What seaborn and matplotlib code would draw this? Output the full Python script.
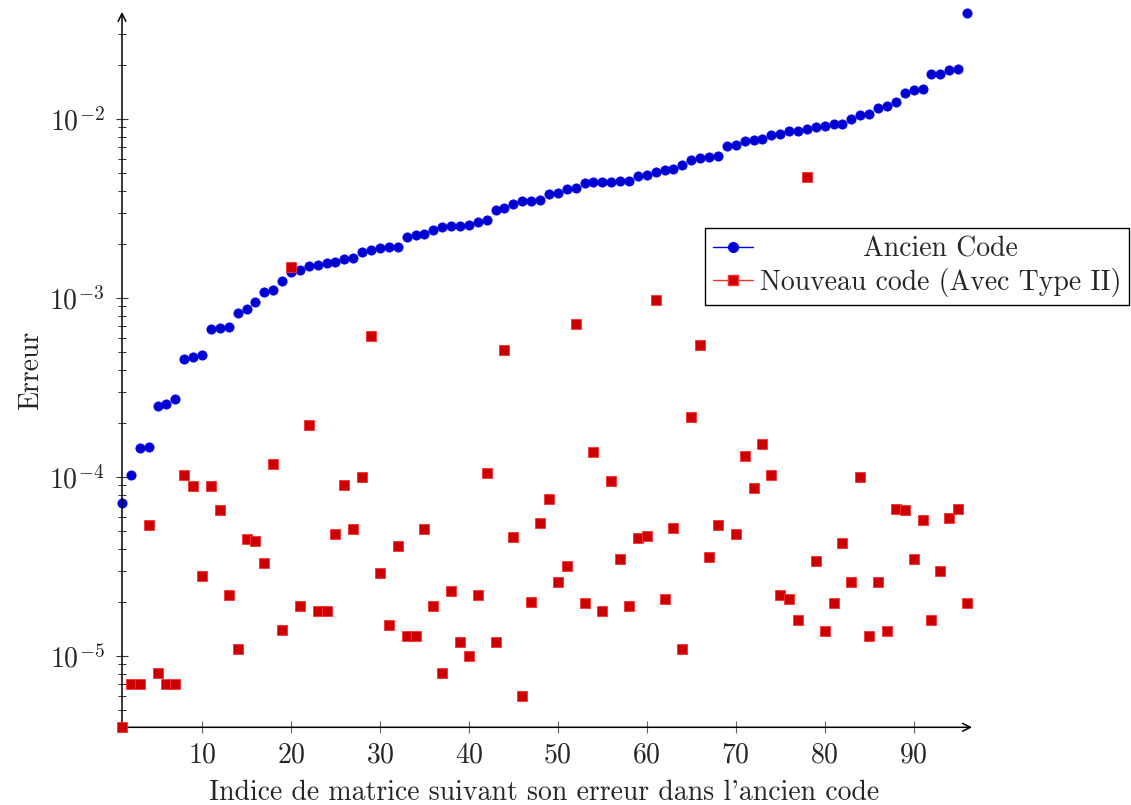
import numpy as np
import pandas as pd
import matplotlib
matplotlib.use("Agg")
import matplotlib.pyplot as plt
from matplotlib.lines import Line2D
from matplotlib.ticker import NullFormatter, LogLocator
from matplotlib.transforms import Affine2D
import seaborn as sns

# Matrix index, sorted by the error of the old code
indices = list(range(1, 97))

# Error of the old code (sorted ascending)
ancien_code = [
    7.21e-5, 1.03e-4, 1.45e-4, 1.48e-4, 2.50e-4, 2.58e-4, 2.74e-4, 4.56e-4,
    4.68e-4, 4.84e-4, 6.76e-4, 6.85e-4, 6.94e-4, 8.27e-4, 8.71e-4, 9.57e-4,
    1.08e-3, 1.11e-3, 1.25e-3, 1.40e-3, 1.44e-3, 1.51e-3, 1.54e-3, 1.57e-3,
    1.60e-3, 1.66e-3, 1.67e-3, 1.81e-3, 1.85e-3, 1.90e-3, 1.93e-3, 1.94e-3,
    2.20e-3, 2.25e-3, 2.29e-3, 2.41e-3, 2.51e-3, 2.53e-3, 2.53e-3, 2.57e-3,
    2.68e-3, 2.73e-3, 3.11e-3, 3.21e-3, 3.38e-3, 3.48e-3, 3.51e-3, 3.56e-3,
    3.83e-3, 3.89e-3, 4.06e-3, 4.13e-3, 4.39e-3, 4.46e-3, 4.48e-3, 4.48e-3,
    4.51e-3, 4.54e-3, 4.82e-3, 4.86e-3, 5.09e-3, 5.19e-3, 5.27e-3, 5.53e-3,
    5.94e-3, 6.10e-3, 6.15e-3, 6.23e-3, 7.10e-3, 7.16e-3, 7.54e-3, 7.66e-3,
    7.76e-3, 8.20e-3, 8.31e-3, 8.57e-3, 8.64e-3, 8.79e-3, 9.06e-3, 9.18e-3,
    9.41e-3, 9.45e-3, 1.01e-2, 1.06e-2, 1.07e-2, 1.15e-2, 1.18e-2, 1.25e-2,
    1.41e-2, 1.46e-2, 1.47e-2, 1.78e-2, 1.78e-2, 1.88e-2, 1.91e-2, 3.91e-2,
]

# Error of the new code (with Type II); index 69 sits under the legend
nouveau_code = [
    4.01e-6, 7.0e-6, 7.0e-6, 5.42e-5, 8.04e-6, 7.0e-6, 7.0e-6, 1.03e-4,
    8.91e-5, 2.81e-5, 8.91e-5, 6.59e-5, 2.20e-5, 1.10e-5, 4.51e-5, 4.41e-5,
    3.31e-5, 1.19e-4, 1.40e-5, 1.50e-3, 1.90e-5, 1.96e-4, 1.80e-5, 1.80e-5,
    4.81e-5, 9.02e-5, 5.12e-5, 1.00e-4, 6.15e-4, 2.91e-5, 1.50e-5, 4.12e-5,
    1.30e-5, 1.30e-5, 5.12e-5, 1.90e-5, 8.04e-6, 2.31e-5, 1.20e-5, 1.00e-5,
    2.21e-5, 1.05e-4, 1.20e-5, 5.16e-4, 4.62e-5, 6.0e-6, 2.01e-5, 5.53e-5,
    7.54e-5, 2.60e-5, 3.19e-5, 7.18e-4, 1.99e-5, 1.39e-4, 1.80e-5, 9.49e-5,
    3.50e-5, 1.90e-5, 4.58e-5, 4.70e-5, 9.75e-4, 2.09e-5, 5.20e-5, 1.10e-5,
    2.18e-4, 5.51e-4, 3.60e-5, 5.41e-5, np.nan, 4.81e-5, 1.32e-4, 8.70e-5,
    1.53e-4, 1.03e-4, 2.20e-5, 2.09e-5, 1.60e-5, 4.75e-3, 3.40e-5, 1.39e-5,
    1.99e-5, 4.29e-5, 2.59e-5, 1.01e-4, 1.29e-5, 2.59e-5, 1.39e-5, 6.68e-5,
    6.59e-5, 3.50e-5, 5.78e-5, 1.60e-5, 2.99e-5, 5.89e-5, 6.68e-5, 1.99e-5,
]

x_ticks = [10, 20, 30, 40, 50, 60, 70, 80, 90]
series_labels = ["Ancien Code", "Nouveau code (Avec Type II)"]
x_label = "Indice de matrice suivant son erreur dans l'ancien code"
y_label = "Erreur"

sns.set_style("ticks")
plt.rcParams.update({
    "font.family": "serif",
    "font.serif": ["cmr10"],
    "mathtext.fontset": "cm",
    "axes.formatter.use_mathtext": True,
    "font.size": 20,
    "axes.unicode_minus": True,
})

blue_fill, blue_edge = "#0000CC", "#0000FF"
red_fill, red_edge = "#CC0000", "#FF3030"

df = pd.DataFrame({"indice": indices, "ancien": ancien_code, "nouveau": nouveau_code})

fig = plt.figure(figsize=(11.31, 8.05), dpi=100)
ax = fig.add_axes([0.10787, 0.09652, 0.74712, 0.88696])

sns.scatterplot(data=df, x="indice", y="ancien", marker="o", s=44,
                color=blue_fill, edgecolor=blue_edge, linewidth=0.6,
                ax=ax, zorder=3, clip_on=False, legend=False)
sns.scatterplot(data=df, x="indice", y="nouveau", marker="s", s=50,
                color=red_fill, edgecolor=red_edge, linewidth=0.6,
                ax=ax, zorder=4, clip_on=False, legend=False)

ax.set_yscale("log")
all_vals = np.concatenate([np.array(ancien_code), np.array(nouveau_code)])
ax.set_xlim(min(indices), max(indices))
ax.set_ylim(np.nanmin(all_vals), np.nanmax(all_vals))

ax.set_xticks(x_ticks)
ax.yaxis.set_major_locator(LogLocator(base=10))
ax.yaxis.set_minor_locator(LogLocator(base=10, subs=np.arange(2, 10)))
ax.yaxis.set_minor_formatter(NullFormatter())
ax.tick_params(axis="x", which="major", direction="inout", length=9,
               width=0.8, color="#666666", pad=6)
ax.tick_params(axis="y", which="major", direction="inout", length=9,
               width=0.8, color="#333333", pad=8)
ax.tick_params(axis="y", which="minor", direction="inout", length=5.5,
               width=0.7, color="#333333")

for side in ["top", "right", "left", "bottom"]:
    ax.spines[side].set_visible(False)

arrow_kw = dict(arrowstyle="->", lw=1.1, color="black",
                shrinkA=0, shrinkB=0, mutation_scale=14)
ax.annotate("", xy=(1.006, 0), xytext=(0, 0), xycoords="axes fraction",
            textcoords="axes fraction", arrowprops=arrow_kw,
            annotation_clip=False)
ax.annotate("", xy=(0, 1.002), xytext=(0, 0), xycoords="axes fraction",
            textcoords="axes fraction", arrowprops=arrow_kw,
            annotation_clip=False)

ax.set_xlabel(x_label, labelpad=8)
ax.set_ylabel(y_label, labelpad=4)

handles = [
    Line2D([], [], color=blue_edge, lw=1.0, marker="o", markersize=7,
           markerfacecolor=blue_fill, markeredgecolor=blue_edge),
    Line2D([], [], color=red_edge, lw=1.0, marker="s", markersize=7,
           markerfacecolor=red_fill, markeredgecolor=red_edge),
]
leg = fig.legend(handles, series_labels, loc="upper right",
                 bbox_to_anchor=(0.9985, 0.7168), bbox_transform=fig.transFigure,
                 frameon=True, fancybox=False, framealpha=1, edgecolor="black",
                 borderpad=0.29, handlelength=1.43, handletextpad=0.24,
                 labelspacing=0.2, borderaxespad=0, fontsize=20)
leg.get_frame().set_linewidth(1.0)

# Center the shorter label over the text column
fig.canvas.draw()
renderer = fig.canvas.get_renderer()
texts = leg.get_texts()
widths = [t.get_window_extent(renderer).width for t in texts]
dx = (max(widths) - widths[0]) / 2.0
texts[0].set_transform(texts[0].get_transform() + Affine2D().translate(dx, 0))

fig.savefig("out.png", dpi=100, facecolor="white")
